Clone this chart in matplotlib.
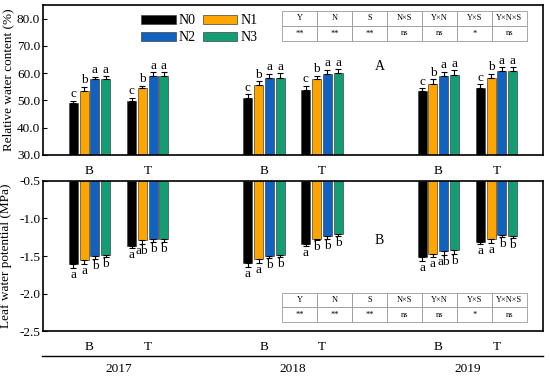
import numpy as np
import matplotlib
matplotlib.use('Agg')
from matplotlib import pyplot as plt
from matplotlib import transforms

plt.rcParams['font.family'] = ['Liberation Serif', 'DejaVu Serif']
plt.rcParams['font.size'] = 9.5

# groups: 2017 B, 2017 T, 2018 B, 2018 T, 2019 B, 2019 T
years = ['2017', '2018', '2019']
sites = ['B', 'T', 'B', 'T', 'B', 'T']
treat = ['N0', 'N1', 'N2', 'N3']
colors = ['#000000', '#FFA500', '#1062BE', '#129E72']

# relative water content (%)
rwc = {
    'N0': [49.0, 49.9, 50.8, 53.8, 53.3, 54.5],
    'N1': [53.5, 54.6, 55.8, 57.7, 56.2, 58.2],
    'N2': [57.9, 58.9, 58.3, 59.8, 59.0, 60.7],
    'N3': [58.0, 58.8, 58.3, 60.2, 59.5, 60.7],
}
rwc_err = {
    'N0': [0.8, 1.1, 1.4, 1.5, 1.2, 1.5],
    'N1': [1.5, 0.8, 1.3, 1.4, 1.5, 1.5],
    'N2': [0.7, 1.5, 1.4, 1.5, 1.5, 1.5],
    'N3': [0.9, 1.6, 1.7, 1.3, 1.6, 1.5],
}
rwc_letters = {
    'N0': ['c'] * 6,
    'N1': ['b'] * 6,
    'N2': ['a'] * 6,
    'N3': ['a'] * 6,
}

# leaf water potential (MPa)
lwp = {
    'N0': [-1.61, -1.37, -1.59, -1.34, -1.51, -1.31],
    'N1': [-1.55, -1.29, -1.54, -1.27, -1.47, -1.27],
    'N2': [-1.50, -1.28, -1.50, -1.24, -1.44, -1.22],
    'N3': [-1.48, -1.28, -1.48, -1.21, -1.42, -1.23],
}
lwp_err = {
    'N0': [0.045, 0.027, 0.05, 0.027, 0.05, 0.03],
    'N1': [0.05, 0.05, 0.057, 0.02, 0.04, 0.057],
    'N2': [0.035, 0.03, 0.027, 0.027, 0.04, 0.03],
    'N3': [0.035, 0.03, 0.03, 0.027, 0.05, 0.03],
}
lwp_letters = {
    'N0': ['a', 'a', 'a', 'a', 'a', 'a'],
    'N1': ['a', 'ab', 'a', 'b', 'a', 'a'],
    'N2': ['b', 'b', 'b', 'b', 'ab', 'b'],
    'N3': ['b', 'b', 'b', 'b', 'b', 'b'],
}

tab_head = ['Y', 'N', 'S', 'N×S', 'Y×N', 'Y×S', 'Y×N×S']
tab_sig = ['**', '**', '**', 'ns', 'ns', '*', 'ns']

xpos = np.array([0, 1, 3, 4, 6, 7], dtype=float)
year_pos = [0.5, 3.5, 6.5]
w = 0.155
step = 0.185
offs = (np.arange(4) - 1.5) * step

fig = plt.figure(figsize=(5.5, 3.78), dpi=100)
ax1 = fig.add_axes([0.0782, 0.590, 0.909, 0.3968])
ax2 = fig.add_axes([0.0782, 0.1243, 0.909, 0.3969])

ekw = dict(ecolor='black', elinewidth=0.8, capsize=2.5, capthick=0.8)

handles = []
for i, t in enumerate(treat):
    xs = xpos + offs[i]
    # top panel
    v = np.array(rwc[t])
    e = np.array(rwc_err[t])
    b = ax1.bar(xs, v - 30, bottom=30, width=w, color=colors[i], edgecolor='#444444',
                linewidth=0.5, label=t, zorder=2)
    handles.append(b)
    ax1.errorbar(xs, v, yerr=[np.zeros(6), e], fmt='none', zorder=3, **ekw)
    for x, vv, ee, lt in zip(xs, v, e, rwc_letters[t]):
        ax1.text(x, vv + ee + 0.2, lt, ha='center', va='bottom', fontsize=9.5)
    # bottom panel
    v = np.array(lwp[t])
    e = np.array(lwp_err[t])
    ax2.bar(xs, v + 0.5, bottom=-0.5, width=w, color=colors[i], edgecolor='#444444',
            linewidth=0.5, zorder=2)
    ax2.errorbar(xs, v, yerr=[e, np.zeros(6)], fmt='none', zorder=3, **ekw)
    for x, vv, ee, lt in zip(xs, v, e, lwp_letters[t]):
        ax2.text(x, vv - ee - 0.015, lt, ha='center', va='top', fontsize=9.5)

for ax in (ax1, ax2):
    ax.set_xlim(-0.8, 7.8)
    ax.set_xticks(xpos)
    ax.set_xticklabels(sites)
    ax.tick_params(axis='x', length=0, pad=7, labelsize=9.5)
    ax.tick_params(axis='y', direction='in', length=3, labelsize=9.5, pad=2)
    for s in ax.spines.values():
        s.set_linewidth(1.2)

ax1.set_ylim(30, 85)
ax1.set_yticks(np.arange(30, 81, 10))
ax1.set_yticklabels(['%.1f' % y for y in np.arange(30, 81, 10)])
ax1.set_ylabel('Relative water content (%)', fontsize=9.5, labelpad=2)

ax2.set_ylim(-2.5, -0.5)
ax2.set_yticks([-2.5, -2.0, -1.5, -1.0, -0.5])
ax2.set_yticklabels(['-2.5', '-2.0', '-1.5', '-1.0', '-0.5'])
ax2.set_ylabel('Leaf water potential (MPa)', fontsize=9.5, labelpad=5)

order = [0, 2, 1, 3]
ax1.legend([handles[k] for k in order], [treat[k] for k in order],
           loc='upper left', bbox_to_anchor=(0.185, 0.975), ncol=2, frameon=False,
           handlelength=2.5, handleheight=0.6, handletextpad=0.2, columnspacing=0.5,
           labelspacing=0.3, fontsize=10, borderaxespad=0)

ax1.text(0.674, 0.587, 'A', transform=ax1.transAxes, ha='center', va='center', fontsize=10)
ax2.text(0.672, 0.6, 'B', transform=ax2.transAxes, ha='center', va='center', fontsize=10)


def sig_table(ax, y0, h):
    tb = ax.table(cellText=[tab_head, tab_sig], cellLoc='center',
                  bbox=[0.478, y0, 0.49, h])
    tb.auto_set_font_size(False)
    tb.set_fontsize(6)
    for c in tb.get_celld().values():
        c.set_edgecolor('#999999')
        c.set_linewidth(0.6)
        c.set_facecolor('white')
    tb.set_zorder(4)


sig_table(ax1, 0.76, 0.2)
sig_table(ax2, 0.06, 0.195)

# year axis below bottom panel
ax2.plot([-0.002, 1.0], [-0.167, -0.167], transform=ax2.transAxes, color='black',
         linewidth=1.0, clip_on=False)
trans = transforms.blended_transform_factory(ax2.transData, ax2.transAxes)
for yp, yr in zip(year_pos, years):
    ax2.text(yp, -0.253, yr, transform=trans, ha='center', va='center', fontsize=9.5)

fig.savefig('out.png', dpi=100)
